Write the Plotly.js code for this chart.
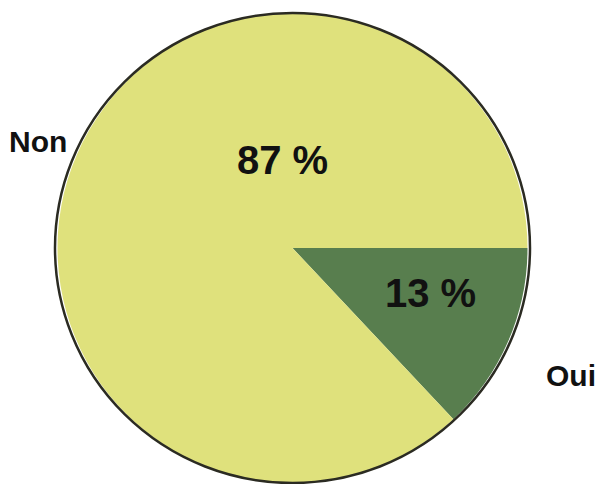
<!DOCTYPE html>
<html><head><meta charset="utf-8">
<script src="https://cdn.plot.ly/plotly-3.0.1.min.js"></script>
<style>html,body{margin:0;padding:0;background:#fff}#chart{width:597px;height:484px}</style>
</head><body><div id="chart"></div>
<script>
const categories = ["Oui", "Non"];
const values = [13, 87];
const pctLabels = ["13 %", "87 %"];
const colors = ["#587e4e", "#dfe17c"];

const W = 597, H = 484;
const dom = {x: [55 / W, 530 / W], y: [1 - 483 / H, 1 - 13 / H]};

const trace = {
  type: "pie",
  labels: categories,
  values: values,
  sort: false,
  direction: "clockwise",
  rotation: 90,
  marker: {colors: colors, line: {width: 0}},
  textinfo: "none",
  hoverinfo: "label+percent",
  domain: dom,
  showlegend: false
};

const f = {family: "Liberation Sans, Arial, sans-serif", color: "#111", weight: "bold"};
function ann(text, px, py, size) {
  return {text: text, x: px / W, y: 1 - py / H, xref: "paper", yref: "paper",
          xanchor: "center", yanchor: "middle", showarrow: false,
          font: Object.assign({size: size}, f)};
}
const layout = {
  width: W, height: H,
  margin: {l: 0, r: 0, t: 0, b: 0},
  paper_bgcolor: "#ffffff",
  showlegend: false,
  shapes: [{
    type: "circle", xref: "paper", yref: "paper",
    x0: dom.x[0], x1: dom.x[1], y0: dom.y[0], y1: dom.y[1],
    line: {color: "#2b2b22", width: 2.5}, fillcolor: "rgba(0,0,0,0)"
  }],
  annotations: [
    ann(pctLabels[1], 282, 160, 40),
    ann(pctLabels[0], 430, 293, 40),
    ann(categories[1], 37.5, 141, 30),
    ann(categories[0], 571, 375, 30)
  ]
};

Plotly.newPlot("chart", [trace], layout, {displayModeBar: false, staticPlot: true});
</script></body></html>
